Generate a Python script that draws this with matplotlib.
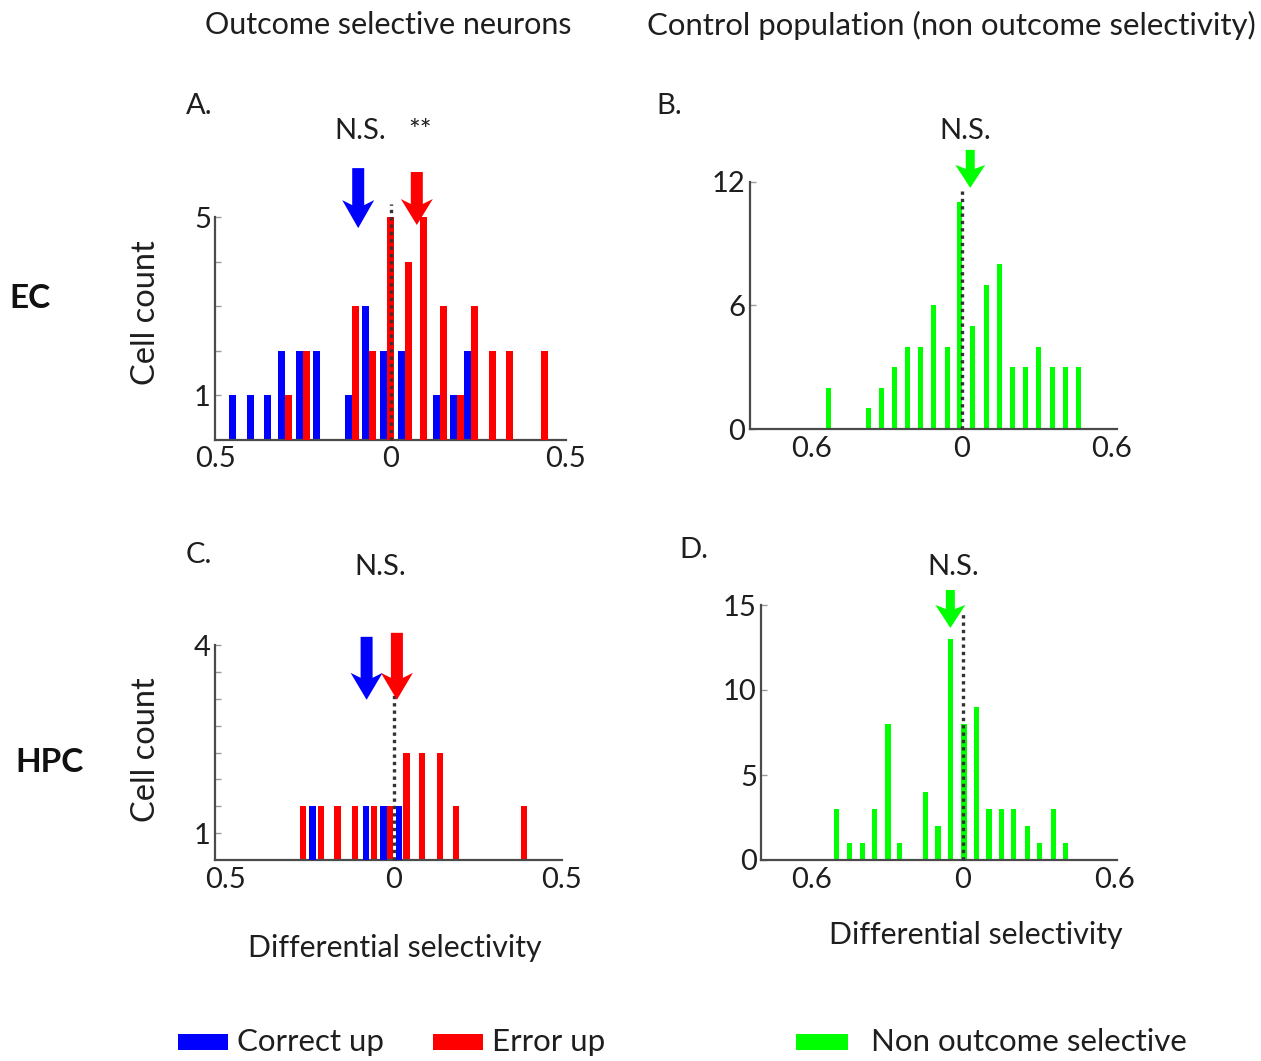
import matplotlib
matplotlib.use("Agg")
import matplotlib.pyplot as plt
from matplotlib.patches import Polygon, Rectangle
import matplotlib.transforms as mtransforms

plt.rcParams['font.family'] = ['Lato', 'DejaVu Sans']

# ---------------- data ----------------
# Panel A (EC, outcome selective)
A_blue_x = [-0.45, -0.40, -0.35, -0.31, -0.26, -0.21, -0.12, -0.07, -0.02, 0.03, 0.13, 0.18, 0.22]
A_blue_n = [1, 1, 1, 2, 2, 2, 1, 3, 2, 2, 1, 1, 2]
A_red_x = [-0.29, -0.24, -0.10, -0.05, 0.0, 0.05, 0.095, 0.15, 0.20, 0.24, 0.29, 0.34, 0.44]
A_red_n = [1, 2, 3, 2, 5, 4, 5, 3, 1, 3, 2, 2, 2]
A_mean_blue, A_mean_red = -0.092, 0.075

# Panel B (EC, control)
B_x = [-0.534, -0.376, -0.324, -0.271, -0.219, -0.167, -0.114, -0.06, -0.01, 0.042,
       0.096, 0.149, 0.2, 0.253, 0.306, 0.36, 0.413, 0.464]
B_n = [2, 1, 2, 3, 4, 4, 6, 4, 11, 5, 7, 8, 3, 3, 4, 3, 3, 3]
B_mean = 0.033

# Panel C (HPC, outcome selective)
C_red_x = [-0.269, -0.216, -0.166, -0.115, -0.058, -0.01, 0.039, 0.085, 0.137, 0.185, 0.387]
C_red_n = [1, 1, 1, 1, 1, 1, 2, 2, 2, 1, 1]
C_blue_x = [-0.24, -0.081, -0.03, 0.017]
C_blue_n = [1, 1, 1, 1]
C_mean_blue, C_mean_red = -0.08, 0.01

# Panel D (HPC, control)
D_x = [-0.502, -0.449, -0.399, -0.35, -0.297, -0.25, -0.148, -0.099, -0.049, 0.004,
       0.053, 0.103, 0.152, 0.2, 0.255, 0.304, 0.357, 0.406]
D_n = [3, 1, 1, 3, 8, 1, 4, 2, 13, 8, 9, 3, 3, 3, 2, 1, 3, 1]
D_mean = -0.05

BLUE, RED, GREEN = '#0000FF', '#FF0000', '#00FF00'
TXT = '#1e1e1e'
AXC = '#4a4a4a'

W, H = 1261, 1061
fig = plt.figure(figsize=(W / 100, H / 100), dpi=100)


def add_ax(left, right, top, bottom):
    return fig.add_axes([left / W, 1 - bottom / H, (right - left) / W, (bottom - top) / H])


def style(ax, xlim, ylim, xticks, xlabels, yticks, ylabels):
    ax.set_xlim(*xlim)
    ax.set_ylim(*ylim)
    for s in ('top', 'right'):
        ax.spines[s].set_visible(False)
    for s in ('left', 'bottom'):
        ax.spines[s].set_color(AXC)
        ax.spines[s].set_linewidth(1.6)
    ax.set_xticks(xticks)
    ax.set_xticklabels(xlabels)
    ax.set_yticks(yticks)
    ax.set_yticklabels(ylabels)
    ax.tick_params(axis='x', length=0, pad=5, labelsize=21, labelcolor=TXT)
    ax.tick_params(axis='y', direction='in', length=4, width=1, color='#999999',
                   pad=3, labelsize=21, labelcolor=TXT)
    ax.patch.set_alpha(0)


def arrow(ax, x, ytip, color, length, head_len, head_hw, shaft_hw, notch):
    verts = [(0, 0), (head_hw, head_len), (shaft_hw, head_len - notch),
             (shaft_hw, length), (-shaft_hw, length), (-shaft_hw, head_len - notch),
             (-head_hw, head_len)]
    tr = (mtransforms.Affine2D().scale(1 / 100) + fig.dpi_scale_trans +
          mtransforms.ScaledTranslation(x, ytip, ax.transData))
    p = Polygon(verts, closed=True, transform=tr, facecolor=color, edgecolor='none',
                clip_on=False, zorder=6)
    ax.add_artist(p)


def zero_line(ax, ytop):
    ax.plot([0, 0], [0, ytop], linestyle=(0, (1, 1.2)), color='#333333', lw=2.4,
            zorder=5, clip_on=False)


# ---------------- Panel A ----------------
axA = add_ax(215, 566, 217, 439.5)
axA.bar(A_blue_x, A_blue_n, width=0.02, color=BLUE, zorder=2)
axA.bar(A_red_x, A_red_n, width=0.02, color=RED, zorder=3)
style(axA, (-0.5, 0.47), (0, 5), [-0.5, 0, 0.5], ['0.5', '0', '0.5'],
      [1, 2, 3, 4, 5], ['1', '', '', '', '5'])
zero_line(axA, 5.3)
arrow(axA, A_mean_blue, 4.75, BLUE, 60, 28, 16, 6, 5)
arrow(axA, A_mean_red, 4.82, RED, 53, 26, 16, 6, 5)

# ---------------- Panel B ----------------
axB = add_ax(749.5, 1117, 181.7, 429)
axB.bar(B_x, B_n, width=0.02, color=GREEN, zorder=2)
style(axB, (-0.85, 0.62), (0, 12), [-0.6, 0, 0.6], ['0.6', '0', '0.6'],
      [0, 6, 12], ['0', '6', '12'])
zero_line(axB, 11.75)
arrow(axB, B_mean, 11.7, GREEN, 38, 23, 15, 4.5, 4)

# ---------------- Panel C ----------------
axC = add_ax(215, 562, 645, 860)
axC.bar(C_red_x, C_red_n, width=0.019, color=RED, zorder=2)
axC.bar(C_blue_x, C_blue_n, width=0.019, color=BLUE, zorder=3)
style(axC, (-0.53, 0.48), (0, 4), [-0.5, 0, 0.5], ['0.5', '0', '0.5'],
      [0.5, 1, 1.5, 2, 2.5, 3, 3.5, 4], ['1', '', '', '', '', '', '', '4'])
zero_line(axC, 3.9)
arrow(axC, C_mean_blue, 2.98, BLUE, 63, 27, 16, 6, 5)
arrow(axC, C_mean_red, 2.98, RED, 67, 27, 16, 6, 5)

# ---------------- Panel D ----------------
axD = add_ax(761, 1117, 605, 860)
axD.bar(D_x, D_n, width=0.02, color=GREEN, zorder=2)
style(axD, (-0.8, 0.61), (0, 15), [-0.6, 0, 0.6], ['0.6', '0', '0.6'],
      [0, 5, 10, 15], ['0', '5', '10', '15'])
zero_line(axD, 14.6)
arrow(axD, D_mean, 13.65, GREEN, 38, 23, 15, 4.5, 4)


# ---------------- text ----------------
def ftext(x, y, s, **kw):
    kw.setdefault('color', TXT)
    kw.setdefault('ha', 'center')
    kw.setdefault('va', 'center')
    fig.text(x / W, 1 - y / H, s, **kw)


ftext(388, 25, 'Outcome selective neurons', fontsize=22)
ftext(951, 25, 'Control population (non outcome selectivity)', fontsize=22.4)
ftext(199, 106, 'A.', fontsize=21)
ftext(669, 106, 'B.', fontsize=21)
ftext(199, 555, 'C.', fontsize=21)
ftext(694, 550, 'D.', fontsize=21)
ftext(30, 299, 'EC', fontsize=24, fontweight='bold', color='#111111')
ftext(50, 762, 'HPC', fontsize=24, fontweight='bold', color='#111111')
ftext(146, 313, 'Cell count', fontsize=23.5, rotation=90)
ftext(146, 750, 'Cell count', fontsize=23.5, rotation=90)
ftext(360, 131, 'N.S.', fontsize=21)
ftext(420, 132, '**', fontsize=20)
ftext(965, 131, 'N.S.', fontsize=21)
ftext(380, 567, 'N.S.', fontsize=21)
ftext(953, 567, 'N.S.', fontsize=21)
ftext(395, 948, 'Differential selectivity', fontsize=21.8)
ftext(976, 935, 'Differential selectivity', fontsize=21.8)

# legend
for (x0, x1, col, label) in [(178, 228, BLUE, 'Correct up'), (433, 483, RED, 'Error up'),
                             (796, 848, GREEN, 'Non outcome selective')]:
    fig.patches.append(Rectangle((x0 / W, 1 - 1050 / H), (x1 - x0) / W, 16 / H,
                                 transform=fig.transFigure, facecolor=col,
                                 edgecolor='none'))
    ftext(x1 + (9 if col != GREEN else 23), 1042, label, fontsize=22.5, ha='left')

fig.savefig('out.png', dpi=100, facecolor='white')
